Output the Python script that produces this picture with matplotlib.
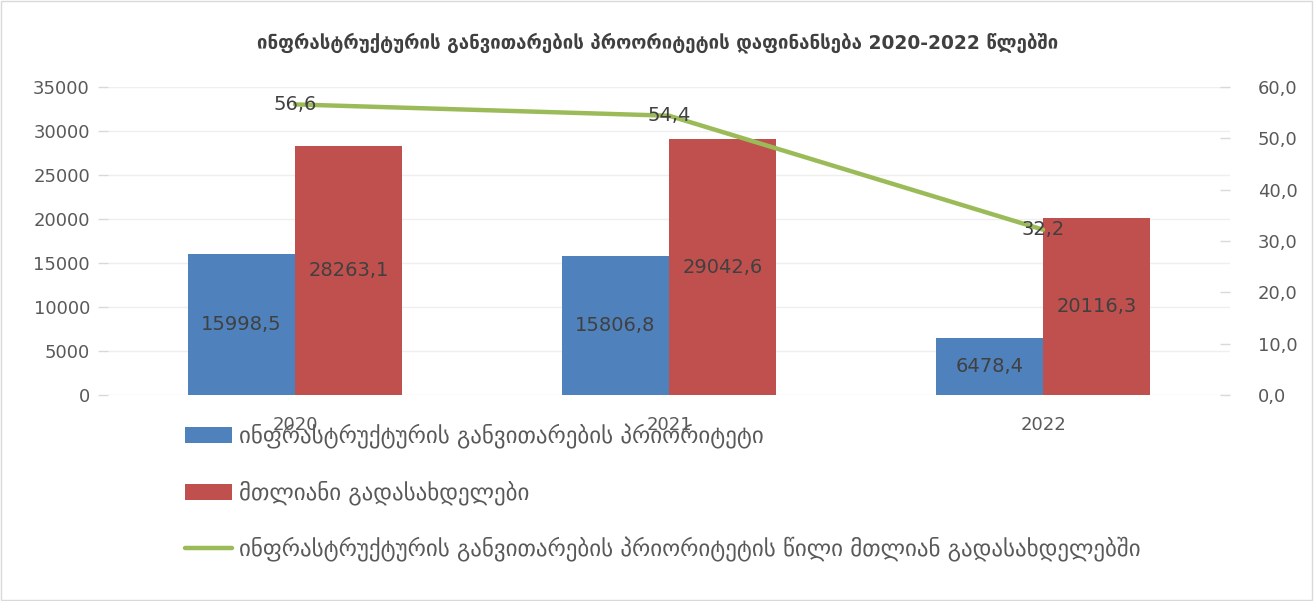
import matplotlib.pyplot as plt
import matplotlib.patches as mpatches
import numpy as np

plt.rcParams['font.family'] = ['DejaVu Sans']

# data
years = ['2020', '2021', '2022']
infra = [15998.5, 15806.8, 6478.4]
total = [28263.1, 29042.6, 20116.3]
share = [56.6, 54.4, 32.2]

title = 'ინფრასტრუქტურის განვითარების პროორიტეტის დაფინანსება 2020-2022 წლებში'
lab_infra = 'ინფრასტრუქტურის განვითარების პრიორიტეტი'
lab_total = 'მთლიანი გადასახდელები'
lab_share = 'ინფრასტრუქტურის განვითარების პრიორიტეტის წილი მთლიან გადასახდელებში'

c_blue = '#4F81BD'
c_red = '#C0504D'
c_green = '#9BBB59'
c_tick = '#595959'
c_lab = '#404040'

fig = plt.figure(figsize=(13.15, 6.01), dpi=100)
ax = fig.add_axes([0.0821, 0.3428, 0.8533, 0.5125])
ax2 = ax.twinx()

x = np.arange(len(years))
w = 0.286
ax.set_axisbelow(True)
ax.grid(axis='y', color='#EFEFEF', lw=1)
b1 = ax.bar(x - w / 2, infra, w, color=c_blue, label=lab_infra)
b2 = ax.bar(x + w / 2, total, w, color=c_red, label=lab_total)
ln, = ax2.plot(x, share, color=c_green, lw=3.2, label=lab_share,
               solid_capstyle='round')

ax.set_xlim(-0.5, 2.5)
ax.set_ylim(0, 35000)
ax.set_yticks(range(0, 35001, 5000))
ax2.set_ylim(0, 60)
ax2.set_yticks(range(0, 61, 10))
ax2.set_yticklabels([f'{v},0' for v in range(0, 61, 10)])
ax.set_xticks(x)
ax.set_xticklabels(years)

for a in (ax, ax2):
    for s in a.spines.values():
        s.set_visible(False)
ax.tick_params(axis='y', colors='#D9D9D9', labelcolor=c_tick, labelsize=13,
               length=7, width=1, pad=6)
ax2.tick_params(axis='y', colors='#D9D9D9', labelcolor=c_tick, labelsize=13,
                length=7, width=1, direction='in', pad=20)
ax.tick_params(axis='x', length=0, labelcolor=c_tick, labelsize=13, pad=15)

# data labels
for bars, vals in ((b1, infra), (b2, total)):
    for bar, v in zip(bars, vals):
        ax.text(bar.get_x() + bar.get_width() / 2, v / 2,
                f'{v:.1f}'.replace('.', ','), ha='center', va='center',
                fontsize=14, color=c_lab)
for xi, v in zip(x, share):
    ax2.text(xi, v, f'{v:.1f}'.replace('.', ','), ha='center', va='center',
             fontsize=14, color=c_lab)

fig.text(0.5, 1 - 43 / 601, title, ha='center', va='center',
         fontsize=13.4, fontweight='bold', color=c_lab)

fig.legend(handles=[b1, b2, ln], loc='upper left',
           bbox_to_anchor=(185 / 1315, 1 - 424 / 601), frameon=False,
           fontsize=16.5, labelcolor=c_tick, handlelength=2.05,
           handletextpad=0.3, labelspacing=1.38, borderpad=0,
           borderaxespad=0)

fig.add_artist(mpatches.Rectangle((0.001, 0.002), 0.997, 0.996,
                                  transform=fig.transFigure, fill=False,
                                  edgecolor='#D9D9D9', lw=1))

fig.savefig('out.png', dpi=100)
